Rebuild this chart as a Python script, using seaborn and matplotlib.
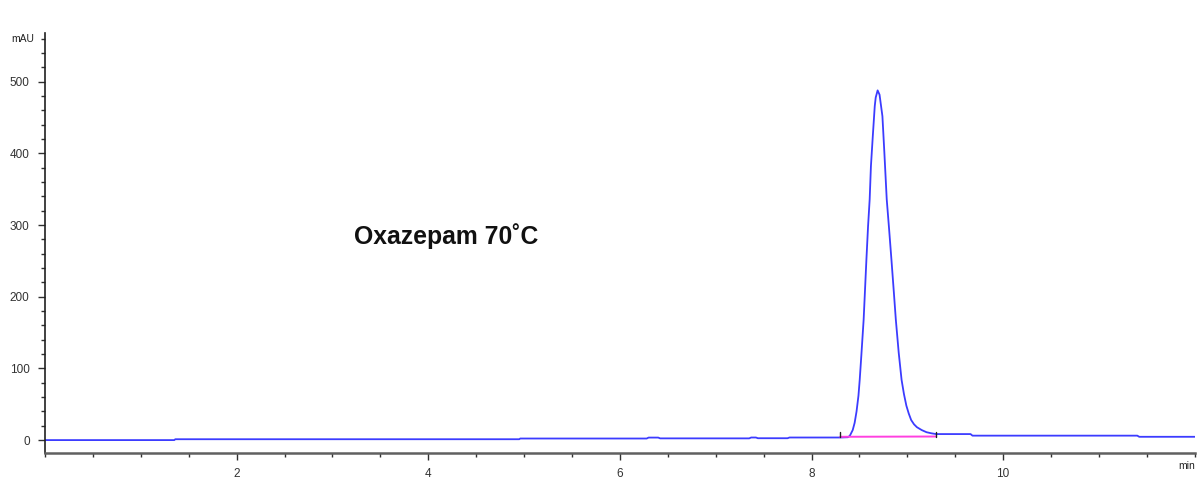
import matplotlib
matplotlib.use("Agg")
import matplotlib.pyplot as plt
from matplotlib.ticker import MultipleLocator
import seaborn as sns
import pandas as pd

# Chromatogram trace: retention time (min) and detector response (mAU)
time_min = [
    0.00, 1.35, 1.36, 4.95, 4.96, 6.28, 6.30, 6.40, 6.42, 7.35, 7.37, 7.42,
    7.44, 7.75, 7.77, 8.30, 8.38, 8.40, 8.43, 8.45, 8.47, 8.49, 8.503, 8.52,
    8.544, 8.573, 8.59, 8.607, 8.62, 8.64, 8.66, 8.67, 8.69, 8.71, 8.72,
    8.74, 8.76, 8.785, 8.81, 8.834, 8.86, 8.88, 8.91, 8.94, 8.965, 8.99,
    9.015, 9.04, 9.07, 9.10, 9.15, 9.20, 9.25, 9.30, 9.66, 9.68, 11.40,
    11.42, 12.00,
]
response_mau = [
    0.0, 0.0, 1.2, 1.2, 2.2, 2.2, 3.5, 3.5, 2.4, 2.4, 3.6, 3.6,
    2.6, 2.6, 3.6, 3.6, 4.0, 6.0, 14.0, 24.0, 40.0, 62.0, 84.0, 118.0,
    168.0, 252.0, 298.0, 336.0, 382.0, 425.0, 466.0, 478.0, 488.0, 482.0, 472.0,
    452.0, 402.0, 336.0, 294.0, 252.0, 205.0, 168.0, 122.0, 84.0, 64.0, 48.0,
    37.0, 28.0, 22.0, 18.0, 14.0, 11.0, 9.5, 8.4, 8.4, 6.2, 6.2,
    4.6, 4.6,
]

# Integration baseline under the main peak
baseline_time = [8.30, 9.30]
baseline_mau = [4.6, 5.0]

sample_label = "Oxazepam 70˚C"

sns.set_style("ticks")
plt.rcParams["font.family"] = ["Liberation Sans", "DejaVu Sans"]

fig = plt.figure(figsize=(12.02, 4.79), dpi=100)
ax = fig.add_axes([0.0374, 0.0543, 0.9566, 0.8767])

trace = pd.DataFrame({"time": time_min, "mAU": response_mau})
sns.lineplot(data=trace, x="time", y="mAU", ax=ax, color="#3c3cff",
             linewidth=1.3, estimator=None, sort=False)

base = pd.DataFrame({"time": baseline_time, "mAU": baseline_mau})
sns.lineplot(data=base, x="time", y="mAU", ax=ax, color="#ff40e0",
             linewidth=1.4, estimator=None, sort=False)

# Peak start / end markers
for t, v in zip(baseline_time, baseline_mau):
    ax.plot([t, t], [v, v + 6], color="#202020", linewidth=1.0)

ax.set_xlim(0, 12.0)
ax.set_ylim(-18, 568)

ax.xaxis.set_major_locator(MultipleLocator(2))
ax.xaxis.set_minor_locator(MultipleLocator(0.5))
ax.yaxis.set_major_locator(MultipleLocator(100))
ax.yaxis.set_minor_locator(MultipleLocator(20))
ax.set_xticks([2, 4, 6, 8, 10])

ax.tick_params(axis="both", which="major", direction="out", length=5,
               width=1.0, colors="#303030", labelsize=8.5, pad=6)
ax.tick_params(axis="both", which="minor", direction="out", length=3,
               width=1.0, colors="#303030")
for lbl in ax.get_xticklabels() + ax.get_yticklabels():
    lbl.set_color("#333333")

for side in ("top", "right"):
    ax.spines[side].set_visible(False)
ax.spines["left"].set_color("#202020")
ax.spines["left"].set_linewidth(1.2)
ax.spines["bottom"].set_color("#606060")
ax.spines["bottom"].set_linewidth(1.8)

ax.set_xlabel("")
ax.set_ylabel("")

ax.annotate("mAU", xy=(0, 560), xycoords=("axes fraction", "data"),
            xytext=(-8, 0), textcoords="offset points", ha="right",
            va="center", fontsize=7.5, color="#222222")
ax.text(1.0, -0.02, "min", transform=ax.transAxes, ha="right", va="top",
        fontsize=7.5, color="#222222")

ax.text(3.23, 284, sample_label, ha="left", va="center", fontsize=17.8,
        fontweight="bold", color="#111111")

fig.savefig("out.png", dpi=100)
